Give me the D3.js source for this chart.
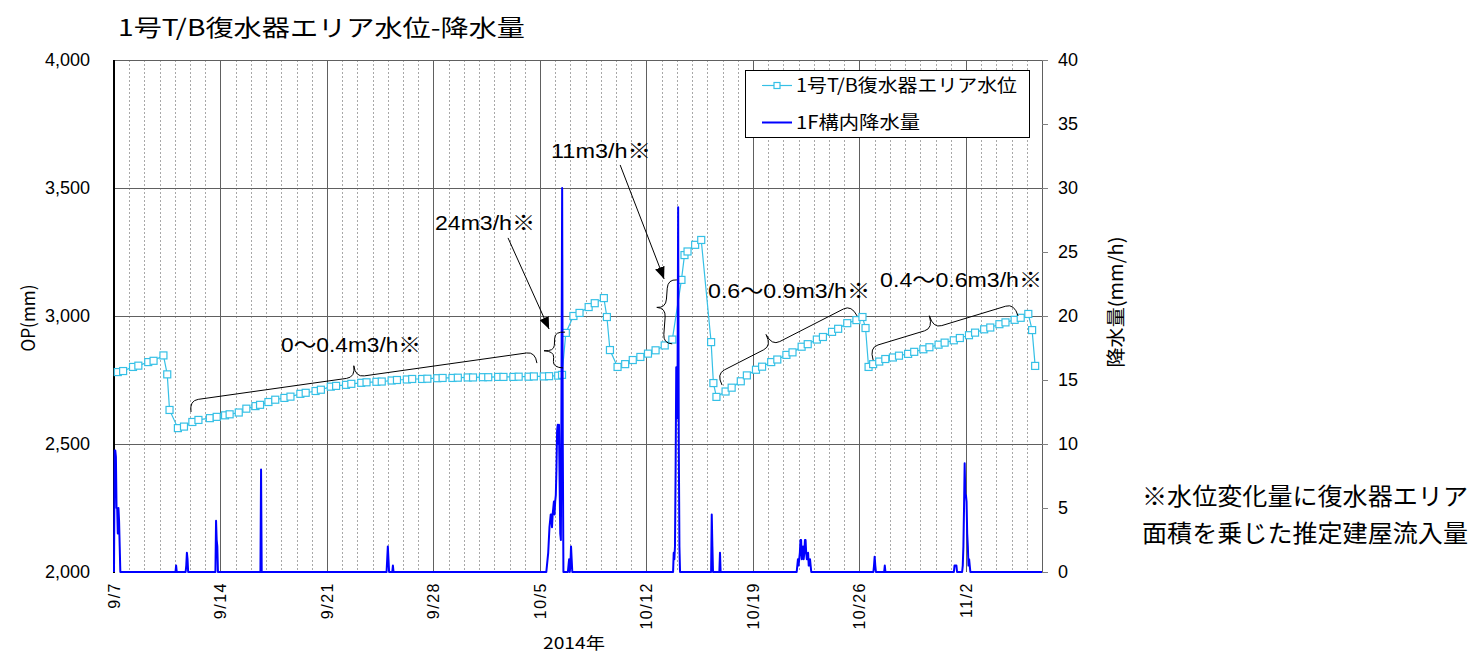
<!DOCTYPE html>
<html>
<head>
<meta charset="utf-8">
<script src="https://cdn.jsdelivr.net/npm/d3@7"></script>
<style>
  body { margin: 0; background: #fff; }
  svg { display: block; }
</style>
</head>
<body>
<svg id="chart" width="1475" height="654"></svg>
<script>
// water level (OP mm) -- time given as days since 2014-09-07 00:00
const levelDay = [
  0.25, 0.6, 1.25, 1.6, 2.25, 2.6, 3.25, 3.5, 3.65, 4.2, 4.6, 5.15, 5.55, 6.3, 6.75,
  7.3, 7.6, 8.2, 8.7, 9.3, 9.6, 10.15, 10.6, 11.2, 11.6, 12.25, 12.6, 13.25, 13.6,
  14.25, 14.6, 15.25, 15.6, 16.25, 16.6, 17.25, 17.6, 18.25, 18.6, 19.25, 19.6,
  20.25, 20.6, 21.25, 21.6, 22.25, 22.6, 23.25, 23.6, 24.25, 24.6, 25.25, 25.6,
  26.25, 26.6, 27.25, 27.6, 28.25, 28.6, 29.2, 29.45, 29.7, 30.2, 30.6, 31.2, 31.6,
  32.2, 32.4, 32.6, 33.1, 33.6, 34.1, 34.6, 35.1, 35.6, 36.2, 36.7, 37.3, 37.5, 37.7,
  38.2, 38.6, 39.25, 39.4, 39.6, 40.2, 40.6, 41.2, 41.6, 42.2, 42.6, 43.2, 43.6,
  44.2, 44.6, 45.2, 45.6, 46.2, 46.6, 47.2, 47.6, 48.2, 48.8, 49.2, 49.4, 49.6, 49.9,
  50.3, 50.7, 51.2, 51.6, 52.2, 52.6, 53.2, 53.6, 54.2, 54.6, 55.2, 55.6, 56.2, 56.6,
  57.2, 57.6, 58.2, 58.6, 59.2, 59.6, 60.1, 60.35, 60.55
]
const levelMm = [
  2781, 2785, 2801, 2806, 2820, 2825, 2846, 2772, 2633, 2562, 2568, 2586, 2594, 2601, 2606,
  2612, 2616, 2623, 2638, 2648, 2653, 2664, 2673, 2680, 2685, 2696, 2700, 2707, 2712,
  2724, 2727, 2731, 2735, 2739, 2741, 2743, 2744, 2748, 2750, 2752, 2754,
  2754, 2755, 2757, 2758, 2758, 2759, 2760, 2760, 2761, 2761, 2762, 2762,
  2762, 2763, 2763, 2764, 2764, 2765, 2767, 2770, 2934, 3000, 3012, 3035, 3050,
  3070, 2996, 2867, 2801, 2812, 2828, 2840, 2853, 2866, 2885, 2908, 3141, 3238, 3252,
  3278, 3297, 2898, 2738, 2684, 2705, 2720, 2745, 2768, 2790, 2802, 2820, 2830,
  2848, 2858, 2880, 2890, 2908, 2918, 2938, 2950, 2972, 2984, 2996, 2953, 2801, 2812,
  2822, 2832, 2838, 2845, 2852, 2860, 2870, 2878, 2888, 2896, 2905, 2914, 2925, 2935,
  2948, 2955, 2968, 2975, 2985, 2993, 3008, 2945, 2805
]

// hourly rainfall (mm/h) -- hours since 2014-09-07 00:00, hours not listed had no rain
const rainHour = [
  1, 2, 3, 4, 5, 6, 7, 8, 9,
  98, 114, 115, 116, 161, 162, 163, 232, 431, 432, 433, 440,
  683, 684, 685, 686, 687, 688, 689, 690, 691, 692, 693, 694, 695, 696, 697, 698, 699,
  700, 701, 702, 703, 704, 705, 706, 707, 708, 717, 718, 720, 721, 722,
  883, 884, 885, 886, 887, 888, 889, 890, 891, 892, 943, 944, 956,
  1078, 1079, 1080, 1081, 1082, 1083, 1084, 1085, 1086, 1087, 1088, 1089, 1090, 1091,
  1092, 1093, 1094, 1095, 1096, 1097, 1098, 1099, 1199, 1200, 1201, 1216,
  1326, 1327, 1328, 1329, 1339, 1340, 1341, 1342, 1343, 1344, 1345, 1346, 1347, 1348, 1349, 1350
]
const rainMm = [
  9.5, 9.5, 9, 5, 5, 3, 5, 4, 2,
  0.5, 0.5, 1.5, 1, 4, 2.5, 2, 8, 1, 2, 1, 0.5,
  0.5, 1, 1.5, 2.5, 3.5, 4, 4.5, 4.5, 3.5, 4.5, 5, 5.5, 4.5, 5.5, 6, 8, 11,
  11.5, 10, 11.5, 7, 3, 2.5, 15, 30, 10, 0.5, 1, 0.5, 2, 1,
  1.5, 1, 2, 8, 16, 12, 14, 28.5, 10, 2, 4.5, 2, 1.5,
  0.5, 1, 0.5, 1, 1.5, 2.5, 2.5, 1, 1.5, 2, 1, 1.5, 2.5, 2.5,
  1.5, 1, 1, 1.5, 0.5, 0.5, 1, 0.5, 0.5, 1.2, 0.5, 0.5,
  0.5, 0.5, 0.5, 0.5, 0.5, 2, 5, 8.5, 6, 6, 5.5, 3, 2, 0.5, 1, 0.5
]

const weekTicks = ['2014-09-07', '2014-09-14', '2014-09-21', '2014-09-28', '2014-10-05',
  '2014-10-12', '2014-10-19', '2014-10-26', '2014-11-02']
const levelTicks = [2000, 2500, 3000, 3500, 4000]
const rainTicks = [0, 5, 10, 15, 20, 25, 30, 35, 40]

const titleText = '1号T/B復水器エリア水位-降水量'
const levelName = '1号T/B復水器エリア水位'
const rainName = '1F構内降水量'
const noteLines = ['※水位変化量に復水器エリア', '面積を乗じた推定建屋流入量']

// annotations: text [day, mm], braces [day, mm] -> [day, mm]
const rateLabels = [
  { text: '0～0.4m3/h※', day: 10.98, mm: 2859, w: 140 },
  { text: '24m3/h※', day: 21.1, mm: 3336, w: 100 },
  { text: '11m3/h※', day: 28.73, mm: 3617, w: 100 },
  { text: '0.6～0.9m3/h※', day: 39.05, mm: 3070, w: 162 },
  { text: '0.4～0.6m3/h※', day: 50.36, mm: 3113, w: 162 }
]
const braces = [
  { from: [5.06, 2625], to: [27.8, 2816], depth: 23, frac: 0.48 },
  { from: [29.52, 2797], to: [29.65, 2937], depth: 20, frac: 0.45 },
  { from: [36.69, 2891], to: [37.0, 3141], depth: 18, frac: 0.55 },
  { from: [39.97, 2730], to: [48.85, 3000], depth: 25, frac: 0.41 },
  { from: [49.9, 2828], to: [59.43, 3000], depth: 26, frac: 0.44 }
]
const arrows = [
  { from: [25.9, 3305], to: [28.6, 2949] },
  { from: [33.27, 3590], to: [36.16, 3145] }
]

const levelColor = '#35c0e6'
const rainColor = '#0000ff'
const jpFont = '"Noto Sans CJK JP", sans-serif'
const numFont = '"Liberation Sans", Arial, "Noto Sans CJK JP", sans-serif'

const svg = d3.select('#chart')
const margin = { top: 60, left: 114, right: 1042, bottom: 572 }

const t0 = Date.UTC(2014, 8, 7)
const t1 = Date.UTC(2014, 10, 7)
const dayMs = 864e5
const x = d3.scaleUtc().domain([new Date(t0), new Date(t1)]).range([margin.left, margin.right])
const y = d3.scaleLinear().domain([2000, 4000]).range([margin.bottom, margin.top])
const y2 = d3.scaleLinear().domain([0, 40]).range([margin.bottom, margin.top])
const xd = d => x(new Date(t0 + d * dayMs))
const px = v => Math.round(v) + 0.5

svg.append('rect').attr('width', 1475).attr('height', 654).attr('fill', '#fff')

// grid -- daily dotted, weekly solid
const grid = svg.append('g')
grid.selectAll('line.minor')
  .data(d3.utcDay.range(new Date(t0 + dayMs), new Date(t1)))
  .join('line')
  .attr('x1', d => px(x(d))).attr('x2', d => px(x(d)))
  .attr('y1', margin.top).attr('y2', margin.bottom)
  .attr('stroke', '#a8a8a8').attr('stroke-dasharray', '2,2')

const weekDates = weekTicks.map(s => new Date(s + 'T00:00:00Z'))
grid.selectAll('line.major')
  .data(weekDates.slice(1))
  .join('line')
  .attr('x1', d => px(x(d))).attr('x2', d => px(x(d)))
  .attr('y1', margin.top).attr('y2', margin.bottom)
  .attr('stroke', '#606060')

grid.selectAll('line.h')
  .data(levelTicks.slice(1, -1))
  .join('line')
  .attr('x1', margin.left).attr('x2', margin.right)
  .attr('y1', d => px(y(d))).attr('y2', d => px(y(d)))
  .attr('stroke', '#606060')

// frame
svg.append('line').attr('x1', margin.left).attr('x2', margin.right)
  .attr('y1', px(margin.top)).attr('y2', px(margin.top)).attr('stroke', '#606060')
svg.append('line').attr('x1', px(margin.right)).attr('x2', px(margin.right))
  .attr('y1', margin.top).attr('y2', margin.bottom).attr('stroke', '#606060')
svg.append('line').attr('x1', margin.left).attr('x2', margin.left)
  .attr('y1', margin.top).attr('y2', margin.bottom + 1).attr('stroke', '#000').attr('stroke-width', 2)

// left axis labels
svg.append('g')
  .selectAll('text')
  .data(levelTicks)
  .join('text')
  .attr('x', 90)
  .attr('y', d => y(d))
  .attr('dy', '0.36em')
  .attr('text-anchor', 'end')
  .style('font-family', numFont)
  .style('font-size', '18px')
  .text(d => d3.format(',')(d))

// right axis
const rightAxis = svg.append('g')
rightAxis.selectAll('line')
  .data(rainTicks)
  .join('line')
  .attr('x1', margin.right).attr('x2', margin.right + 6)
  .attr('y1', d => px(y2(d))).attr('y2', d => px(y2(d)))
  .attr('stroke', '#808080')
rightAxis.selectAll('text')
  .data(rainTicks)
  .join('text')
  .attr('x', 1058)
  .attr('y', d => y2(d))
  .attr('dy', '0.36em')
  .style('font-family', numFont)
  .style('font-size', '18px')
  .text(d => d)

// x axis labels
svg.append('g')
  .selectAll('text')
  .data(weekDates)
  .join('text')
  .attr('transform', d => `translate(${x(d)},582) rotate(-90)`)
  .attr('dy', '0.36em')
  .attr('text-anchor', 'end')
  .style('font-family', numFont)
  .style('font-size', '16px')
  .style('letter-spacing', '1.5px')
  .text(d3.utcFormat('%-m/%-d'))

svg.append('text')
  .attr('x', 543).attr('y', 649)
  .attr('textLength', 62).attr('lengthAdjust', 'spacingAndGlyphs')
  .style('font-family', jpFont).style('font-size', '16px')
  .text('2014年')

// axis titles
svg.append('text')
  .attr('transform', 'translate(35,318) rotate(-90)')
  .attr('text-anchor', 'middle')
  .attr('textLength', 67).attr('lengthAdjust', 'spacingAndGlyphs')
  .style('font-family', jpFont).style('font-size', '18px')
  .text('OP(mm)')
svg.append('text')
  .attr('transform', 'translate(1123,302) rotate(-90)')
  .attr('text-anchor', 'middle')
  .attr('textLength', 131).attr('lengthAdjust', 'spacingAndGlyphs')
  .style('font-family', jpFont).style('font-size', '19px')
  .text('降水量(mm/h)')

// title
svg.append('text')
  .attr('x', 118).attr('y', 36)
  .attr('textLength', 407).attr('lengthAdjust', 'spacingAndGlyphs')
  .style('font-family', jpFont).style('font-size', '23px')
  .text(titleText)

// water level series
const levelData = levelDay.map((d, i) => ({ day: d, mm: levelMm[i] }))
svg.append('path')
  .datum(levelData)
  .attr('fill', 'none')
  .attr('stroke', levelColor)
  .attr('stroke-width', 1.2)
  .attr('d', d3.line().x(d => xd(d.day)).y(d => y(d.mm)))
svg.append('g')
  .selectAll('rect')
  .data(levelData)
  .join('rect')
  .attr('x', d => xd(d.day) - 3.5)
  .attr('y', d => y(d.mm) - 3.5)
  .attr('width', 7).attr('height', 7)
  .attr('fill', '#fff')
  .attr('stroke', levelColor)
  .attr('stroke-width', 1.2)

// rainfall series (hourly, zero where not listed)
const rainByHour = new Map(rainHour.map((h, i) => [h, rainMm[i]]))
const hours = d3.range(0, (t1 - t0) / 36e5 + 1)
svg.append('path')
  .datum(hours)
  .attr('fill', 'none')
  .attr('stroke', rainColor)
  .attr('stroke-width', 2)
  .attr('stroke-linejoin', 'round')
  .attr('d', d3.line().x(h => x(new Date(t0 + h * 36e5))).y(h => y2(rainByHour.get(h) || 0)))

// annotations
const defs = svg.append('defs')
defs.append('marker')
  .attr('id', 'arrowhead')
  .attr('viewBox', '0 0 12 10')
  .attr('refX', 12).attr('refY', 5)
  .attr('markerWidth', 12).attr('markerHeight', 10)
  .attr('markerUnits', 'userSpaceOnUse')
  .attr('orient', 'auto')
  .append('path')
  .attr('d', 'M0,0 L12,5 L0,10 Z')
  .attr('fill', '#000')

const bracePath = (b) => {
  const p1 = [xd(b.from[0]), y(b.from[1])]
  const p2 = [xd(b.to[0]), y(b.to[1])]
  const dx = p2[0] - p1[0], dy = p2[1] - p1[1]
  const len = Math.hypot(dx, dy)
  const ux = dx / len, uy = dy / len
  const nx = uy, ny = -ux
  const h = b.depth
  const m = b.frac * len
  const q = Math.min(9, len / 6)
  const P = (s, t) => `${p1[0] + ux * s + nx * t},${p1[1] + uy * s + ny * t}`
  return `M${P(0, 0)} Q${P(0, h / 2)} ${P(q, h / 2)} L${P(m - q, h / 2)} ` +
    `Q${P(m, h / 2)} ${P(m, h)} Q${P(m, h / 2)} ${P(m + q, h / 2)} ` +
    `L${P(len - q, h / 2)} Q${P(len, h / 2)} ${P(len, 0)}`
}

const notes = svg.append('g')
notes.selectAll('path.brace')
  .data(braces)
  .join('path')
  .attr('d', bracePath)
  .attr('fill', 'none')
  .attr('stroke', '#000')
  .attr('stroke-width', 1)

notes.selectAll('line.arrow')
  .data(arrows)
  .join('line')
  .attr('x1', d => xd(d.from[0])).attr('y1', d => y(d.from[1]))
  .attr('x2', d => xd(d.to[0])).attr('y2', d => y(d.to[1]))
  .attr('stroke', '#000')
  .attr('stroke-width', 1)
  .attr('marker-end', 'url(#arrowhead)')

notes.selectAll('text')
  .data(rateLabels)
  .join('text')
  .attr('x', d => xd(d.day))
  .attr('y', d => y(d.mm))
  .attr('textLength', d => d.w)
  .attr('lengthAdjust', 'spacingAndGlyphs')
  .style('font-family', numFont)
  .style('font-size', '21px')
  .text(d => d.text)

// legend
const legend = svg.append('g').attr('transform', 'translate(745,70)')
legend.append('rect')
  .attr('x', 0.5).attr('y', 0.5).attr('width', 284).attr('height', 67)
  .attr('fill', '#fff').attr('stroke', '#000')
legend.append('line').attr('x1', 17).attr('x2', 47).attr('y1', 15.5).attr('y2', 15.5)
  .attr('stroke', levelColor).attr('stroke-width', 1.2)
legend.append('rect').attr('x', 29).attr('y', 12.5).attr('width', 6).attr('height', 6)
  .attr('fill', '#fff').attr('stroke', levelColor).attr('stroke-width', 1.2)
legend.append('line').attr('x1', 17).attr('x2', 47).attr('y1', 52.5).attr('y2', 52.5)
  .attr('stroke', rainColor).attr('stroke-width', 2)
legend.append('text').attr('x', 51).attr('y', 22)
  .attr('textLength', 221).attr('lengthAdjust', 'spacingAndGlyphs')
  .style('font-family', jpFont).style('font-size', '18px')
  .text(levelName)
legend.append('text').attr('x', 51).attr('y', 59)
  .attr('textLength', 124).attr('lengthAdjust', 'spacingAndGlyphs')
  .style('font-family', jpFont).style('font-size', '18px')
  .text(rainName)

// footnote
svg.append('g')
  .selectAll('text')
  .data(noteLines)
  .join('text')
  .attr('x', 1142)
  .attr('y', (d, i) => 505 + i * 37)
  .attr('textLength', 326)
  .attr('lengthAdjust', 'spacingAndGlyphs')
  .style('font-family', jpFont)
  .style('font-size', '24px')
  .text(d => d)
</script>
</body>
</html>
